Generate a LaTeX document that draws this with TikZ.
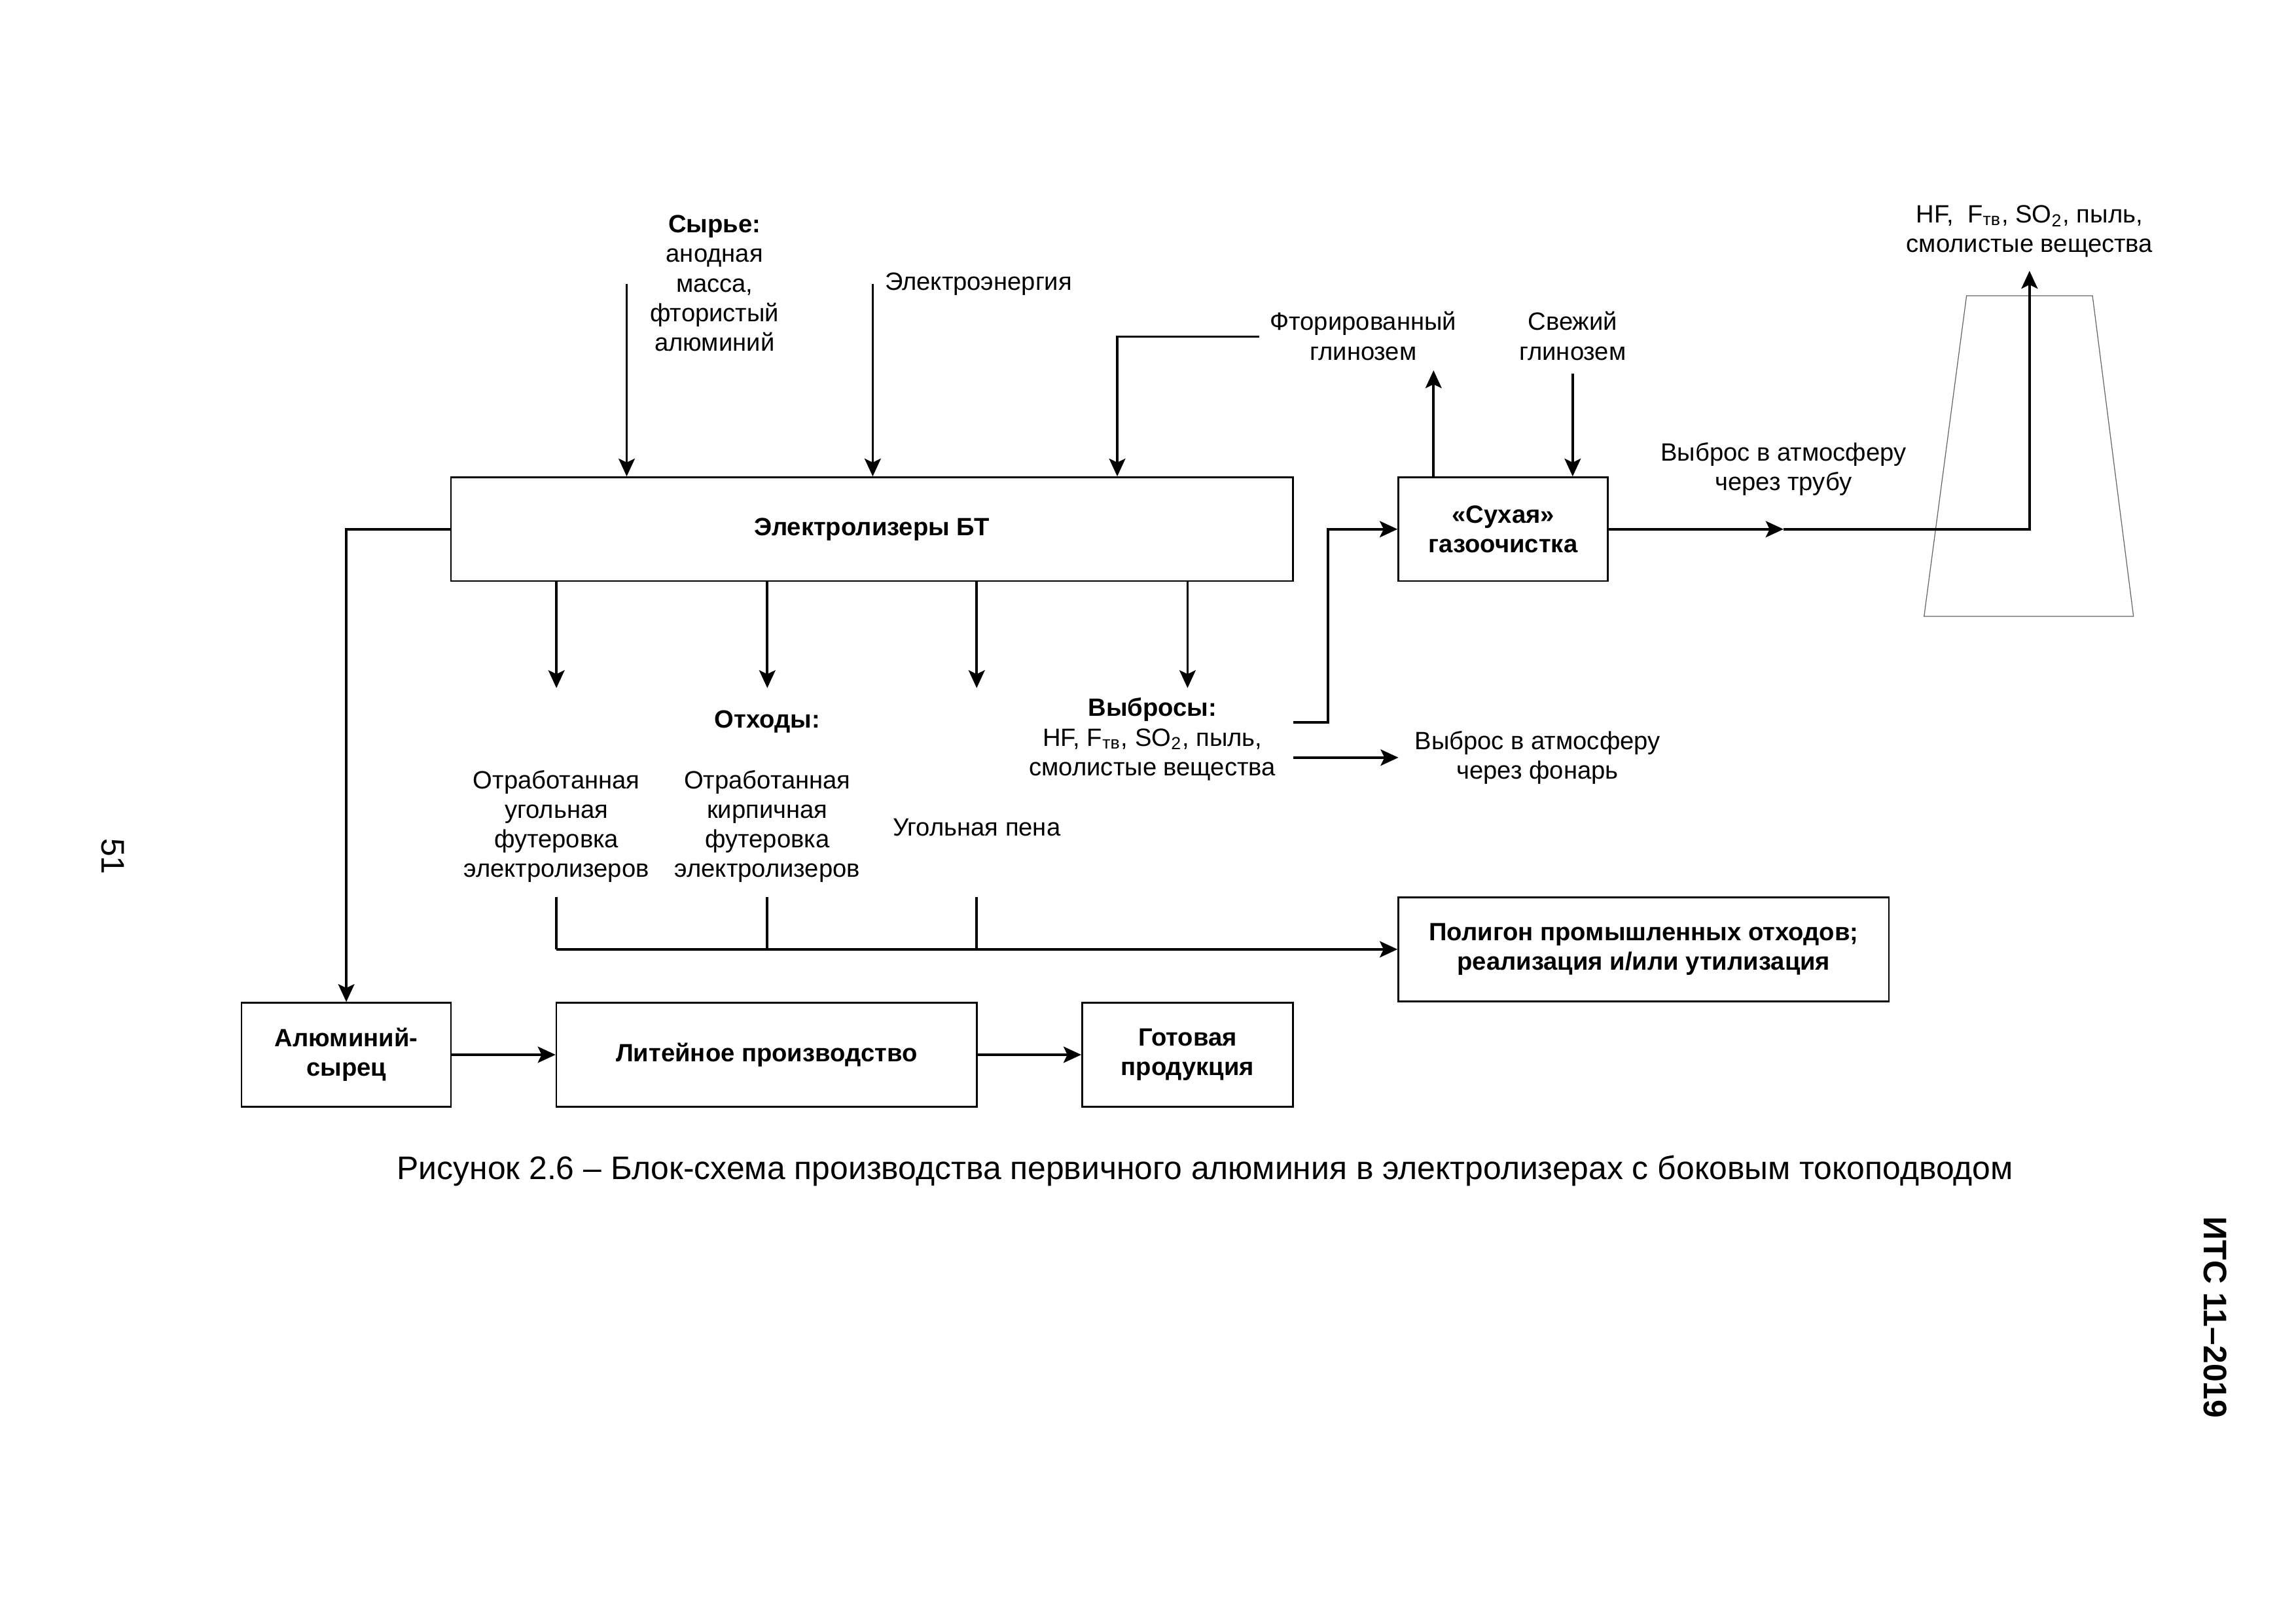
\documentclass[tikz,border=0pt]{standalone}
\usepackage{fontspec}
\setmainfont{Liberation Sans}
\usetikzlibrary{arrows.meta,positioning}

\newcommand\TextFont{\fontsize{9.2}{10.9}\selectfont}
\tikzset{
  block/.style={
    shape = rectangle,
    draw,
    line width = 0.6pt,
    minimum height = 1.345cm,
    inner sep = 0pt,
    align = center,
    font = \TextFont\bfseries
  },
}
\tikzset{
  lbl/.style={
    align = center,
    inner sep = 0pt,
    font = \TextFont
  },
}
\tikzset{
  flow/.style={
    line width = 0.9pt,
    -{Stealth[length=2.3mm,width=2.1mm,inset=0.5mm]}
  },
  wire/.style={
    line width = 0.9pt
  },
  chimney/.style={
    line width = 0.3pt,
    draw = black!60
  }
}

\begin{document}
\begin{tikzpicture}[x=0.018941cm,y=-0.018941cm]
    \useasboundingbox (0,0) rectangle (1568,1109);

    % blocks
    \node[block, minimum width=10.89cm] (ebt) at (595.5,361.5) {Электролизеры БТ};
    \node[block, minimum width=2.709cm] (dry) at (1026.5,361.5) {«Сухая»\\газоочистка};
    \node[block, minimum width=6.345cm] (poly) at (1122.5,648.5) {Полигон промышленных отходов;\\реализация и/или утилизация};
    \node[block, minimum width=2.709cm] (alraw) at (236.5,720.5) {Алюминий-\\сырец};
    \node[block, minimum width=5.436cm] (cast) at (523.5,720.5) {Литейное производство};
    \node[block, minimum width=2.727cm] (prod) at (811,720.5) {Готовая\\продукция};

    % labels
    \node[lbl] (raw) at (488,193.5) {\textbf{Сырье:}\\анодная\\масса,\\фтористый\\алюминий};
    \node[lbl, anchor=west] (energy) at (604,194) {Электроэнергия};
    \node[lbl] (fluor) at (931,229.5) {Фторированный\\глинозем};
    \node[lbl] (fresh) at (1074,229.5) {Свежий\\глинозем};
    \node[lbl] (pipe) at (1218,320.5) {Выброс в атмосферу\\через трубу};
    \node[lbl] (top) at (1386,158) {HF,\ \ F\textsubscript{тв}, SO\textsubscript{2}, пыль,\\смолистые вещества};
    \node[lbl] (waste) at (524,493) {\textbf{Отходы:}};
    \node[lbl] (emis) at (787,505) {\textbf{Выбросы:}\\HF, F\textsubscript{тв}, SO\textsubscript{2}, пыль,\\смолистые вещества};
    \node[lbl] (coal) at (380,564.5) {Отработанная\\угольная\\футеровка\\электролизеров};
    \node[lbl] (brick) at (524,564.5) {Отработанная\\кирпичная\\футеровка\\электролизеров};
    \node[lbl] (foam) at (667,565) {Угольная пена};
    \node[lbl] (lantern) at (1050,517.5) {Выброс в атмосферу\\через фонарь};

    % chimney
    \draw[chimney] (1343,202) -- (1429,202) -- (1457,421) -- (1314,421) -- cycle;

    % inputs
    \coordinate (c1) at (428,194);
    \coordinate (c2) at (596,194);
    \coordinate (c3) at (860,230);
    \draw[flow] (c1) -- (c1 |- ebt.north);
    \draw[flow] (c2) -- (c2 |- ebt.north);
    \draw[flow] (c3) -| (763,0 |- ebt.north);

    % outputs of the cells
    \foreach \x [count=\i] in {380,524,667,811} {
        \coordinate (d\i) at (\x,470);
        \draw[flow] (d\i |- ebt.south) -- (d\i);
    }
    \foreach \x [count=\i] in {380,524,667} {
        \coordinate (w\i) at (\x,613);
        \draw[wire] (w\i) -- (w\i |- poly.west);
    }
    \draw[flow] (w1 |- poly.west) -- (poly.west);

    % gas
    \coordinate (g1) at (883,493.5);
    \coordinate (g2) at (883,517.5);
    \coordinate (g3) at (955,517.5);
    \draw[flow] (g1) -- ++(24,0) |- (dry.west);
    \draw[flow] (g2) -- (g3);
    \coordinate (up) at (979,253);
    \coordinate (dn) at (1074,255);
    \draw[flow] (up |- dry.north) -- (up);
    \draw[flow] (dn) -- (dn |- dry.north);
    \coordinate (mid) at (1218,361.5);
    \coordinate (out) at (1386,185);
    \draw[flow] (dry.east) -- (mid);
    \draw[flow] (mid) -| (out);

    % metal
    \draw[flow] (ebt.west) -| (alraw.north);
    \draw[flow] (alraw) -- (cast);
    \draw[flow] (cast) -- (prod);

    \node[font=\fontsize{12}{14}\selectfont] (cap) at (823,800) {Рисунок 2.6 – Блок-схема производства первичного алюминия в электролизерах с боковым токоподводом};
    \node[font=\fontsize{12}{14}\selectfont, rotate=-90] (page) at (77,585) {51};
    \node[font=\fontsize{12}{14}\selectfont\bfseries, rotate=-90] (its) at (1513,900) {ИТС 11–2019};
\end{tikzpicture}
\end{document}
